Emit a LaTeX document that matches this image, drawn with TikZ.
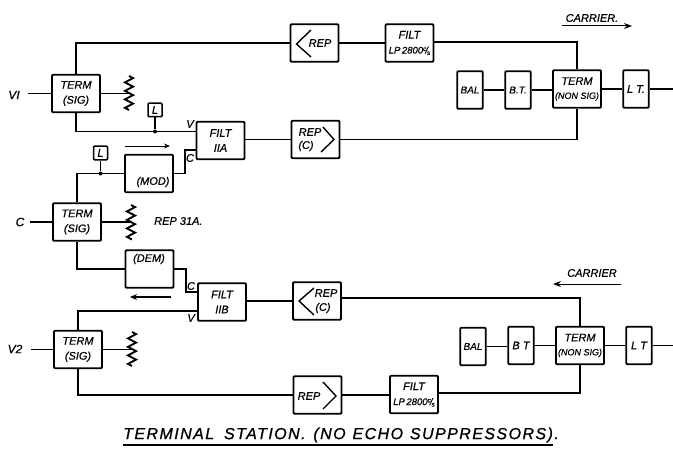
\documentclass[tikz,border=0pt]{standalone}
\usepackage{fontspec}
\setmainfont{Liberation Sans}[ItalicFeatures={FakeBold=0.6}]
\usetikzlibrary{decorations.pathmorphing,arrows.meta}
\newcommand{\fsz}[1]{\fontsize{#1}{#1}\selectfont\itshape}
\newcommand{\cs}{\raisebox{2.5pt}{\fontsize{6.5}{6.5}\selectfont c}\kern-1pt/\kern-1pt\raisebox{-1.5pt}{\fontsize{6.5}{6.5}\selectfont s}}
\tikzset{
 x=1pt,y=-1pt,
 box/.style={draw,line width=1.9pt,rounded corners=1pt,inner sep=0pt,align=center,minimum width=48pt,minimum height=37.5pt,font=\fsz{11}},
 nar/.style={box,minimum width=25.5pt},
 lbox/.style={box,minimum width=14pt,minimum height=13.5pt,line width=1.5pt},
 wire/.style={line width=1.2pt},
 res/.style={line width=1.9pt,decorate,decoration={zigzag,amplitude=4pt,segment length=8.5pt}},
 lab/.style={inner sep=0pt,font=\fsz{11}},
 chev/.style={line width=1.4pt},
 dotn/.style={circle,fill,inner sep=0pt,minimum size=4pt}
}
\begin{document}
\begin{tikzpicture}
\useasboundingbox (0,0) rectangle (673,452);
% boxes
\node[box] (t1) at (76,93.5) {TERM\\[4pt](SIG)};
\node[box] (rep1) at (314.5,43) {};
\node[box] (f1) at (409.5,43) {FILT\\[4pt]{\fsz{9.5}LP\,2800\cs}};
\node[nar] (bal1) at (470,90) {\fsz{10}BAL};
\node[nar] (bt1) at (518,90) {\fsz{10}B.T.};
\node[box] (tn1) at (577,89) {TERM\\[3pt]{\fsz{9}(NON SIG)}};
\node[nar] (lt1) at (636,89) {L T.};
\node[box] (f11a) at (220.5,140.5) {FILT\\[4pt]IIA};
\node[box] (repc1) at (315.5,139.5) {};
\node[lbox] (l1) at (155,110) {L};
\node[lbox] (l2) at (100.5,153) {L};
\node[box] (mod) at (149,173.5) {};
\node[box] (tc) at (77,222) {TERM\\[4pt](SIG)};
\node[box] (dem) at (149.5,269) {};
\node[box] (f11b) at (222,302) {FILT\\[4pt]IIB};
\node[box] (repc2) at (317,301) {};
\node[box] (t2) at (78,349.5) {TERM\\[4pt](SIG)};
\node[box] (rep2) at (317.5,395) {};
\node[box] (f2) at (414,394.5) {FILT\\[4pt]{\fsz{9.5}LP\,2800\cs}};
\node[nar] (bal2) at (473,346.5) {\fsz{10}BAL};
\node[nar] (bt2) at (521,345.5) {B T};
\node[box] (tn2) at (580,345.5) {TERM\\[3pt]{\fsz{9}(NON SIG)}};
\node[nar] (lt2) at (639,345.5) {L T};
% repeater contents
\node[lab] at (320,43) {REP};
\draw[chev] (311,30) -- (296.5,44) -- (311,57);
\node[lab] at (310,132) {REP};
\node[lab] at (306,146) {(C)};
\draw[chev] (323,127) -- (334,139.5) -- (321,152);
\node[lab] at (326,293) {REP};
\node[lab] at (323,308) {(C)};
\draw[chev] (314,288) -- (299,301) -- (314,315);
\node[lab] at (309,396) {REP};
\draw[chev] (323,382) -- (336,396) -- (323,409);
\node[lab] at (153,182) {(MOD)};
\node[lab] at (149,259) {(DEM)};
% free ends and labels
\node[lab] (v1) at (14,95) {\fsz{12}VI};
\node[lab] (c1) at (20,222) {\fsz{12}C};
\node[lab] (v2) at (15,349) {\fsz{12}V2};
\coordinate (o1) at (673,89);
\coordinate (o2) at (673,345.5);
\coordinate (r1) at (129,93.5);
\coordinate (r2) at (131,222);
\coordinate (r3) at (132,349.5);
\node[dotn] (d1) at (155,131.5) {};
\node[dotn] (d2) at (100.5,173.5) {};
% wires
\draw[wire] (28,93.5) -- (t1.west);
\draw[wire] (30,222) -- (tc.west);
\draw[wire] (31,349.5) -- (t2.west);
\draw[wire] (t1.east) -- (r1);
\draw[wire] (tc.east) -- (r2);
\draw[wire] (t2.east) -- (r3);
\draw[res] (129,76) -- (129,110);
\draw[res] (131,205) -- (131,240);
\draw[res] (132,332) -- (132,366);
\draw[wire] (t1.north) |- (rep1.west);
\draw[wire] (rep1.east) -- (f1.west);
\draw[wire] (f1.east |- 0,42) -| (tn1.north);
\draw[wire] (tn1.south) |- (repc1.east);
\draw[wire] (repc1.west) -- (repc1.west -| f11a.east);
\draw[wire] (t1.south) |- (d1.center) -- (f11a.west |- d1.center);
\draw[wire] (d1) -- (l1.south);
\draw[wire] (bal1.east) -- (bal1.east -| bt1.west);
\draw[wire] (bt1.east) -- (bt1.east -| tn1.west);
\draw[wire] (tn1) -- (lt1);
\draw[wire] (lt1.east) -- (o1);
\draw[wire] (mod.east) -- (185,173.5) |- (f11a.west |- 0,150);
\draw[wire] (mod.west) -- (d2.center) -- (77,173.5) -- (tc.north);
\draw[wire] (d2) -- (l2.south);
\draw[wire] (tc.south) |- (dem.west);
\draw[wire] (dem.east) -- (186,269) |- (f11b.west |- 0,292);
\draw[wire] (f11b.west |- 0,311) -| (t2.north);
\draw[wire] (repc2.west) -- (repc2.west -| f11b.east);
\draw[wire] (tn2.north) |- (repc2.east |- 0,298);
\draw[wire] (t2.south) |- (rep2.west);
\draw[wire] (rep2.east) -- (rep2.east -| f2.west);
\draw[wire] (f2.east |- 0,393) -| (tn2.south);
\draw[wire] (bal2.east) -- (bal2.east -| bt2.west);
\draw[wire] (bt2.east) -- (bt2.east -| tn2.west);
\draw[wire] (tn2) -- (lt2);
\draw[wire] (lt2.east) -- (o2);
% small labels
\node[lab] at (190,124) {V};
\node[lab] at (190,158) {C};
\node[lab] at (191,286) {C};
\node[lab] at (191,318) {V};
\node[lab,anchor=west] at (154,221) {REP 31A.};
% arrows
\draw[line width=.9pt,-{Stealth[length=6pt,width=5pt]}] (125,146) -- (170,146);
\draw[line width=1.6pt,-{Stealth[length=7pt,width=6pt]}] (171,297) -- (130,297);
\node[lab] at (592,18) {CARRIER.};
\draw[line width=1pt,-{Stealth[length=8pt,width=6pt]}] (562,26) -- (632,26);
\node[lab] at (592,273) {CARRIER};
\draw[line width=1pt,-{Stealth[length=8pt,width=6pt]}] (621,284) -- (553,284);
% title
\node[inner sep=0pt,anchor=west] (title) at (123,435) {\fontspec{Liberation Sans}[LetterSpace=9,ItalicFeatures={FakeBold=1}]\fsz{16}TERMINAL\hspace{4pt} STATION.\hspace{2pt} (NO\hspace{1pt} ECHO\hspace{1pt} SUPPRESSORS).};
\draw[line width=1.5pt] (123,445) -- (553,445);
\end{tikzpicture}
\end{document}
